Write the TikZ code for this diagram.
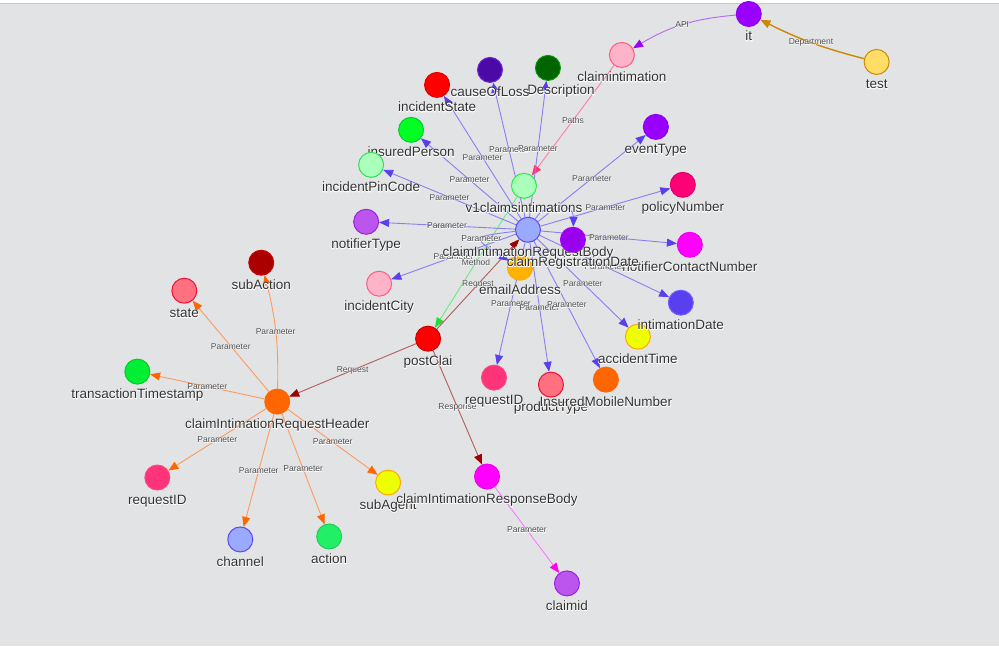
\documentclass[tikz,border=0pt]{standalone}
\usepackage{fontspec}
\setmainfont{Liberation Sans}
\newfontfamily\haloface[FakeBold=7]{Liberation Sans}
\newfontfamily\halofaceE[FakeBold=4]{Liberation Sans}
\usetikzlibrary{arrows.meta}
\pgfdeclarelayer{back}
\pgfdeclarelayer{edges}
\pgfsetlayers{back,edges,main}
\definecolor{bgc}{HTML}{E2E3E5}
\definecolor{topline}{HTML}{C6C7C9}
\definecolor{labeltext}{HTML}{303030}
\definecolor{edgetext}{HTML}{4A4A4A}
\definecolor{pline}{HTML}{8A7EF2}
\definecolor{parrow}{HTML}{5A3FEE}
\definecolor{hline}{HTML}{FF9A5E}
\definecolor{harrow}{HTML}{FF6600}
\definecolor{rline}{HTML}{B35C5C}
\definecolor{rarrow}{HTML}{A00000}
\definecolor{mline}{HTML}{66EE77}
\definecolor{marrow}{HTML}{22DD33}
\definecolor{paline}{HTML}{FF7FA0}
\definecolor{paarrow}{HTML}{FF3377}
\definecolor{apline}{HTML}{B466F5}
\definecolor{aparrow}{HTML}{9900FF}
\definecolor{depc}{HTML}{CC8800}
\definecolor{cline}{HTML}{FF77FF}
\definecolor{carrow}{HTML}{FF00EE}
\newcommand\NLab[1]{\rlap{\haloface\color{white}#1}#1}
\newcommand\ELab[1]{\rlap{\halofaceE\color{white}#1}#1}
\newcommand\GN[6]{%
  \definecolor{fill-#1}{HTML}{#4}%
  \definecolor{draw-#1}{HTML}{#5}%
  \node[gn, fill=fill-#1, draw=draw-#1] (#1) at (#2,#3) {};
  \node[nl] (#1-l) at (#2,#3+27) {\NLab{#6}};
}
\tikzset{
  gn/.style={circle, minimum size=25pt, inner sep=0pt, line width=1pt},
  nl/.style={anchor=base, font=\fontsize{13.5}{15}\selectfont, text=labeltext, inner sep=0pt},
  el/.style={font=\fontsize{8.5}{9}\selectfont, text=edgetext, inner sep=0pt},
  ebase/.style={line width=0.9pt},
  pedge/.style={ebase, draw=pline, -{Triangle[length=10pt,width=8pt,color=parrow]}},
  hedge/.style={ebase, draw=hline, -{Triangle[length=10pt,width=8pt,color=harrow]}},
  redge/.style={ebase, draw=rline, -{Triangle[length=10pt,width=8pt,color=rarrow]}},
  medge/.style={ebase, draw=mline, -{Triangle[length=10pt,width=8pt,color=marrow]}},
  paedge/.style={ebase, draw=paline, -{Triangle[length=10pt,width=8pt,color=paarrow]}},
  apedge/.style={ebase, draw=apline, -{Triangle[length=10pt,width=8pt,color=aparrow]}},
  depedge/.style={line width=1.4pt, draw=depc, -{Triangle[length=10pt,width=8pt,color=depc]}},
  cedge/.style={ebase, draw=cline, -{Triangle[length=10pt,width=8pt,color=carrow]}},
}
\definecolor{fill-ld}{HTML}{006400}
\definecolor{draw-ld}{HTML}{009900}
\begin{document}
\begin{tikzpicture}[x=1pt,y=-1pt]
\begin{pgfonlayer}{back}
\fill[white] (0,0) rectangle (999,647);
\fill[bgc] (0,4) rectangle (999,647);
\draw[topline, line width=1pt] (0,3.5) -- (999,3.5);
\end{pgfonlayer}
\useasboundingbox (0,0) rectangle (999,647);

% nodes (drawing order matters for overlaps)
\GN{it}{749}{14}{9900FF}{8F00F0}{it}
\GN{test}{877}{62}{FFDD66}{CC8800}{test}
\GN{ci}{622}{55}{FFB3C8}{FF5A82}{claimintimation}
\node[gn, fill=fill-ld, draw=draw-ld] (lossDescription) at (548,68) {};
\node[nl, anchor=base east] (lossDescription-l) at (595,95) {\NLab{Description}};
\GN{causeOfLoss}{490}{70}{4B0AA8}{6A2AD0}{causeOfLoss}
\GN{incidentState}{437}{85}{FF0000}{DD0000}{incidentState}
\GN{insuredPerson}{411}{130}{00FF22}{00CC33}{insuredPerson}
\GN{incidentPinCode}{371}{165}{AAFFBB}{33DD55}{incidentPinCode}
\GN{v1}{524}{186}{AAFFBB}{22EE44}{v1claimsintimations}
\GN{eventType}{656}{127}{9900FF}{8800EE}{eventType}
\GN{policyNumber}{683}{185}{FF0077}{DD0066}{policyNumber}
\GN{notifierType}{366}{222}{BB55EE}{9922DD}{notifierType}
\GN{notifierContactNumber}{690}{245}{FF00FF}{EE00EE}{notifierContactNumber}
\GN{emailAddress}{520}{268}{FFB300}{FFAA00}{emailAddress}
\GN{body}{528}{230}{99AAFF}{5A4AEE}{claimIntimationRequestBody}
\GN{crd}{573}{240}{9900EE}{AA00FF}{claimRegistrationDate}
\GN{incidentCity}{379}{284}{FFB3C8}{FF5A82}{incidentCity}
\GN{accidentTime}{638}{337}{EEFF00}{FFAA00}{accidentTime}
\GN{intimationDate}{681}{303}{5A3FEE}{7060FF}{intimationDate}
\GN{productType}{551}{385}{FF7080}{EE1133}{productType}
\GN{requestIDb}{494}{378}{FF3377}{FF4488}{requestID}
\GN{InsuredMobileNumber}{606}{380}{FF6600}{FF6600}{InsuredMobileNumber}
\GN{postClai}{428}{339}{FF0000}{CC0000}{postClai}
\GN{subAction}{261}{263}{AA0000}{CC0000}{subAction}
\GN{state}{184}{291}{FF7080}{EE1133}{state}
\GN{transactionTimestamp}{137}{372}{00EE33}{00CC22}{transactionTimestamp}
\GN{header}{277}{402}{FF6600}{FF6600}{claimIntimationRequestHeader}
\GN{requestIDh}{157}{478}{FF3377}{FF4488}{requestID}
\GN{subAgent}{388}{483}{EEFF00}{FFAA00}{subAgent}
\GN{responseBody}{487}{477}{FF00FF}{EE00EE}{claimIntimationResponseBody}
\GN{channel}{240}{540}{99AAFF}{5A4AEE}{channel}
\GN{action}{329}{537}{22EE66}{22CC55}{action}
\GN{claimid}{567}{584}{BB55EE}{9922DD}{claimid}

% edges
\begin{pgfonlayer}{edges}
\draw[depedge] (test) to[bend left=6] node[el]{\ELab{Department}} (it);
\draw[apedge] (it) to[bend right=13] node[el]{\ELab{API}} (ci);
\draw[paedge] (ci) -- node[el]{\ELab{Paths}} (v1);
\draw[medge] (v1) -- node[el]{\ELab{Method}} (postClai);
\draw[redge] (postClai) -- node[el]{\ELab{Request}} (body);
\draw[redge] (postClai) -- node[el]{\ELab{Request}} (header);
\draw[redge] (postClai) -- node[el]{\ELab{Response}} (responseBody);
\draw[cedge] (responseBody) -- node[el]{\ELab{Parameter}} (claimid);

\draw[pedge] (body) -- node[el]{\ELab{Parameter}} (incidentState);
\draw[pedge] (body) -- node[el]{\ELab{Parameter}} (causeOfLoss);
\draw[pedge] (body) -- node[el]{\ELab{Parameter}} (lossDescription);
\draw[pedge] (body) -- node[el]{\ELab{Parameter}} (insuredPerson);
\draw[pedge] (body) -- node[el]{\ELab{Parameter}} (incidentPinCode);
\draw[pedge] (body) -- node[el]{\ELab{Parameter}} (notifierType);
\draw[pedge] (body) -- node[el]{\ELab{Parameter}} (incidentCity);
\draw[pedge] (body) -- node[el]{\ELab{Parameter}} (eventType);
\draw[pedge] (body) -- node[el]{\ELab{Parameter}} (policyNumber);
\draw[pedge] (body) -- node[el]{\ELab{Parameter}} (notifierContactNumber);
\draw[pedge] (body) -- node[el]{\ELab{Parameter}} (intimationDate);
\draw[pedge] (body) -- node[el]{\ELab{Parameter}} (accidentTime);
\draw[pedge] (body) -- node[el]{\ELab{Parameter}} (requestIDb);
\draw[pedge] (body) -- node[el]{\ELab{Parameter}} (productType);
\draw[pedge] (body) -- node[el]{\ELab{Parameter}} (InsuredMobileNumber);
\draw[pedge] (body) .. controls (471,237) .. node[el]{\ELab{Parameter}} (emailAddress);
\draw[pedge] (body) .. controls (548,200) and (574,204) .. (crd);

\draw[hedge] (header) to[bend right=8] node[el]{\ELab{Parameter}} (subAction);
\draw[hedge] (header) -- node[el]{\ELab{Parameter}} (state);
\draw[hedge] (header) -- node[el]{\ELab{Parameter}} (transactionTimestamp);
\draw[hedge] (header) -- node[el]{\ELab{Parameter}} (requestIDh);
\draw[hedge] (header) -- node[el]{\ELab{Parameter}} (channel);
\draw[hedge] (header) -- node[el]{\ELab{Parameter}} (action);
\draw[hedge] (header) -- node[el]{\ELab{Parameter}} (subAgent);
\end{pgfonlayer}
\end{tikzpicture}
\end{document}
